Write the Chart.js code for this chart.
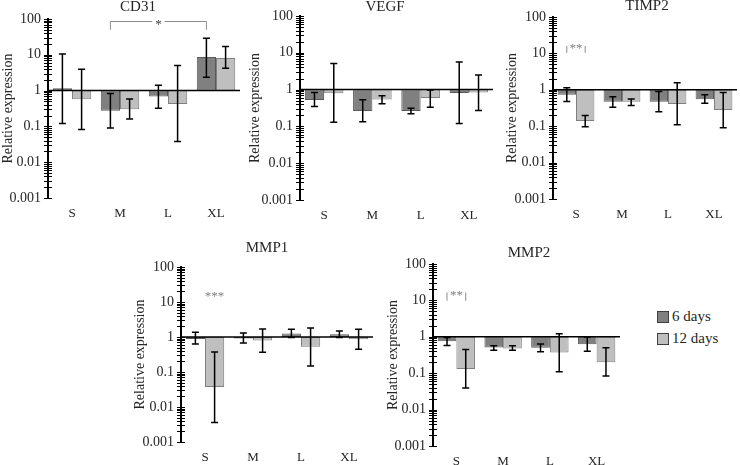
<!DOCTYPE html>
<html><head><meta charset="utf-8">
<script src="https://cdn.jsdelivr.net/npm/chart.js@4"></script>
<style>
html,body{margin:0;padding:0;background:#fff;width:740px;height:465px;overflow:hidden;position:relative;}
canvas{position:absolute;}
.leg{position:absolute;font:15px "Liberation Serif",serif;color:#262626;line-height:15px;white-space:nowrap;}
.leg .box{position:absolute;left:0;top:1px;width:10px;height:10px;border:1px solid #404040;}
.leg .txt{position:absolute;left:15px;top:-1px;}
</style></head><body>
<script>
// ---------- data ----------
const categories = ['S', 'M', 'L', 'XL'];
const seriesNames = ['6 days', '12 days'];
const yTickValues = [0.001, 0.01, 0.1, 1, 10, 100];
const yTickLabels = ['0.001', '0.01', '0.1', '1', '10', '100'];

const cd31_6d     = [1.16, 0.275, 0.68, 8.7];
const cd31_6d_lo  = [0.12, 0.09, 0.32, 2.36];
const cd31_6d_hi  = [10.6, 0.83, 1.4, 29];
const cd31_12d    = [0.57, 0.30, 0.42, 8.2];
const cd31_12d_lo = [0.082, 0.16, 0.038, 4.2];
const cd31_12d_hi = [3.95, 0.58, 5.0, 17];

const vegf_6d     = [0.52, 0.264, 0.264, 0.81];
const vegf_6d_lo  = [0.35, 0.134, 0.22, 0.12];
const vegf_6d_hi  = [0.83, 0.53, 0.31, 5.6];
const vegf_12d    = [0.79, 0.54, 0.59, 0.84];
const vegf_12d_lo = [0.13, 0.41, 0.33, 0.27];
const vegf_12d_hi = [5.1, 0.68, 0.98, 2.5];

const timp2_6d     = [0.73, 0.47, 0.47, 0.55];
const timp2_6d_lo  = [0.48, 0.33, 0.25, 0.43];
const timp2_6d_hi  = [1.14, 0.64, 0.9, 0.73];
const timp2_12d    = [0.138, 0.47, 0.41, 0.28];
const timp2_12d_lo = [0.096, 0.37, 0.109, 0.09];
const timp2_12d_hi = [0.197, 0.56, 1.56, 0.84];

const mmp1_6d     = [0.88, 0.9, 1.25, 1.19];
const mmp1_6d_lo  = [0.63, 0.67, 0.96, 0.96];
const mmp1_6d_hi  = [1.36, 1.3, 1.66, 1.48];
const mmp1_12d    = [0.037, 0.79, 0.53, 0.86];
const mmp1_12d_lo = [0.0036, 0.365, 0.149, 0.45];
const mmp1_12d_hi = [0.37, 1.69, 1.8, 1.66];

const mmp2_6d     = [0.75, 0.51, 0.50, 0.62];
const mmp2_6d_lo  = [0.58, 0.43, 0.39, 0.40];
const mmp2_6d_hi  = [0.96, 0.57, 0.63, 0.98];
const mmp2_12d    = [0.13, 0.48, 0.37, 0.20];
const mmp2_12d_lo = [0.039, 0.43, 0.109, 0.084];
const mmp2_12d_hi = [0.45, 0.57, 1.21, 0.50];

// significance marks (category index, series index, value-axis levels)
const cd31Sig  = [{c1: 1, s1: 0, c2: 3, s2: 0, top: 85, tip: 50, label: '*'}];
const vegfSig  = [];
const timp2Sig = [{c1: 0, s1: 0, c2: 0, s2: 1, top: 16, tip: 10.3, label: '**'}];
const mmp1Sig  = [{c1: 0, s1: 1, c2: 0, s2: 1, top: 17, tip: null, label: '***'}];
const mmp2Sig  = [{c1: 0, s1: 0, c2: 0, s2: 1, top: 16.5, tip: 9.8, label: '**'}];

// ---------- styling / layout ----------
const FONT = '"Liberation Serif", "Times New Roman", serif';
const TXT = '#262626';
const FILL = ['#808080', '#bfbfbf'];
const EDGE = ['#595959', '#7f7f7f'];
const PAD_TOP = 30, X_H = 28, PAD_R = 3;

const panels = [
  {title: 'CD31',  L: 48,  R: 240, T: 19,  B: 198, axisW: 48, tx: 138, ty: 7,
   v: [cd31_6d, cd31_12d], lo: [cd31_6d_lo, cd31_12d_lo], hi: [cd31_6d_hi, cd31_12d_hi], sig: cd31Sig},
  {title: 'VEGF',  L: 300, R: 493, T: 16,  B: 200, axisW: 53, tx: 385, ty: 7,
   v: [vegf_6d, vegf_12d], lo: [vegf_6d_lo, vegf_12d_lo], hi: [vegf_6d_hi, vegf_12d_hi], sig: vegfSig},
  {title: 'TIMP2', L: 553, R: 737, T: 17,  B: 199, axisW: 49, tx: 647, ty: 6,
   v: [timp2_6d, timp2_12d], lo: [timp2_6d_lo, timp2_12d_lo], hi: [timp2_6d_hi, timp2_12d_hi], sig: timp2Sig},
  {title: 'MMP1',  L: 181, R: 373, T: 267, B: 442, axisW: 49, tx: 267, ty: 248,
   v: [mmp1_6d, mmp1_12d], lo: [mmp1_6d_lo, mmp1_12d_lo], hi: [mmp1_6d_hi, mmp1_12d_hi], sig: mmp1Sig},
  {title: 'MMP2',  L: 433, R: 620, T: 264, B: 446, axisW: 48, tx: 529, ty: 253,
   v: [mmp2_6d, mmp2_12d], lo: [mmp2_6d_lo, mmp2_12d_lo], hi: [mmp2_6d_hi, mmp2_12d_hi], sig: mmp2Sig}
];

const panelTitle = {
  id: 'panelTitle',
  afterDraw(chart, args, o) {
    const ctx = chart.ctx;
    ctx.save();
    ctx.font = '15px ' + FONT;
    ctx.fillStyle = TXT;
    ctx.textAlign = 'center';
    ctx.textBaseline = 'middle';
    ctx.fillText(o.text, o.x, o.y);
    ctx.restore();
  }
};

const decor = {
  id: 'decor',
  afterDatasetsDraw(chart, args, o) {
    const {ctx, chartArea: a, scales: {y}} = chart;
    ctx.save();
    // error bars
    chart.data.datasets.forEach((ds, i) => {
      const meta = chart.getDatasetMeta(i);
      meta.data.forEach((bar, j) => {
        const px = bar.x;
        const yl = y.getPixelForValue(ds.errLow[j]);
        const yh = y.getPixelForValue(ds.errHigh[j]);
        ctx.strokeStyle = '#000';
        ctx.lineWidth = 1.5;
        ctx.beginPath();
        ctx.moveTo(px, yl); ctx.lineTo(px, yh);
        ctx.moveTo(px - 3.5, yl); ctx.lineTo(px + 3.5, yl);
        ctx.moveTo(px - 3.5, yh); ctx.lineTo(px + 3.5, yh);
        ctx.stroke();
      });
    });
    // baseline at 1
    const y1 = y.getPixelForValue(1);
    ctx.strokeStyle = '#000';
    ctx.lineWidth = 1.5;
    ctx.beginPath(); ctx.moveTo(a.left, y1); ctx.lineTo(a.right, y1); ctx.stroke();
    // crossing ticks on the log axis
    ctx.lineWidth = 1;
    ctx.beginPath();
    for (let e = -3; e <= 1; e++) {
      for (let m = 1; m <= 9; m++) {
        const py = Math.round(y.getPixelForValue(m * Math.pow(10, e))) + 0.5;
        ctx.moveTo(a.left - 4, py); ctx.lineTo(a.left + 4, py);
      }
    }
    const pTop = Math.round(y.getPixelForValue(100)) + 0.5;
    ctx.moveTo(a.left - 4, pTop); ctx.lineTo(a.left + 4, pTop);
    ctx.stroke();
    // significance marks
    (o.sig || []).forEach(s => {
      const x1 = chart.getDatasetMeta(s.s1).data[s.c1].x;
      const x2 = chart.getDatasetMeta(s.s2).data[s.c2].x;
      const xm = (x1 + x2) / 2;
      const yt = y.getPixelForValue(s.top);
      ctx.font = '13px ' + FONT;
      const tw = ctx.measureText(s.label).width;
      if (s.tip !== null) {
        const yb = y.getPixelForValue(s.tip);
        ctx.strokeStyle = '#8c8c8c';
        ctx.lineWidth = 1;
        ctx.beginPath();
        ctx.moveTo(x1, yb); ctx.lineTo(x1, yt); ctx.lineTo(Math.max(x1, xm - tw / 2 - 3), yt);
        ctx.moveTo(Math.min(x2, xm + tw / 2 + 3), yt); ctx.lineTo(x2, yt); ctx.lineTo(x2, yb);
        ctx.stroke();
      }
      ctx.fillStyle = s.label === '*' ? '#404040' : '#7f7f7f';
      ctx.textAlign = 'center';
      ctx.textBaseline = 'middle';
      ctx.fillText(s.label, xm, yt + 3);
    });
    ctx.restore();
  }
};

panels.forEach(p => {
  const cLeft = p.L - p.axisW;
  const cTop = p.T - PAD_TOP;
  const W = p.axisW + (p.R - p.L) + PAD_R;
  const H = PAD_TOP + (p.B - p.T) + X_H;
  const cv = document.createElement('canvas');
  cv.width = W; cv.height = H;
  cv.style.left = cLeft + 'px'; cv.style.top = cTop + 'px';
  cv.style.width = W + 'px'; cv.style.height = H + 'px';
  document.body.appendChild(cv);

  new Chart(cv, {
    type: 'bar',
    data: {
      labels: categories,
      datasets: seriesNames.map((name, i) => ({
        label: name,
        data: p.v[i],
        errLow: p.lo[i],
        errHigh: p.hi[i],
        base: 1,
        backgroundColor: FILL[i],
        borderColor: EDGE[i],
        borderWidth: 1,
        borderSkipped: false,
        categoryPercentage: 0.8,
        barPercentage: 1.0
      }))
    },
    options: {
      responsive: false,
      animation: false,
      events: [],
      layout: {padding: {top: PAD_TOP, right: PAD_R, left: 0, bottom: 0}},
      plugins: {
        legend: {display: false},
        tooltip: {enabled: false},
        title: {display: false},
        panelTitle: {text: p.title, x: p.tx - cLeft, y: p.ty - cTop},
        decor: {sig: p.sig}
      },
      scales: {
        x: {
          type: 'category',
          grid: {display: false, drawTicks: false},
          border: {display: false},
          ticks: {font: {family: FONT, size: 13}, color: TXT, padding: 8},
          afterFit: s => { s.height = X_H; }
        },
        y: {
          type: 'logarithmic',
          min: 0.001, max: 100,
          grid: {display: false, drawTicks: false},
          border: {display: true, color: '#000', width: 2},
          afterBuildTicks: s => { s.ticks = yTickValues.map(v => ({value: v})); },
          ticks: {
            autoSkip: false,
            font: {family: FONT, size: 14}, color: TXT, padding: 7,
            callback: v => yTickLabels[yTickValues.indexOf(v)]
          },
          title: {display: true, text: 'Relative expression', font: {family: FONT, size: 14}, color: TXT, padding: 0},
          afterFit: s => { s.width = p.axisW; }
        }
      }
    },
    plugins: [panelTitle, decor]
  });
});

// legend
seriesNames.forEach((name, i) => {
  const d = document.createElement('div');
  d.className = 'leg';
  d.style.left = '657px';
  d.style.top = (310 + i * 22) + 'px';
  d.innerHTML = '<span class="box" style="background:' + FILL[i] + '"></span><span class="txt">' + name + '</span>';
  document.body.appendChild(d);
});
</script></body></html>
